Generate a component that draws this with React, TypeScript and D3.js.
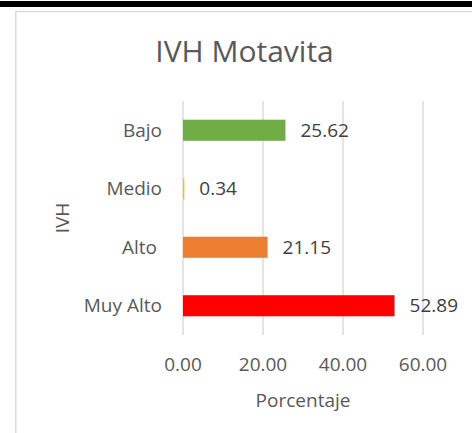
import React from "react";
import * as d3 from "d3";

const categories = ["Bajo", "Medio", "Alto", "Muy Alto"];
const values = [25.62, 0.34, 21.15, 52.89];
const colors = ["#70AD47", "#FFC000", "#ED7D31", "#FF0000"];
const ticks = [0, 20, 40, 60];
const title = "IVH Motavita";
const xTitle = "Porcentaje";
const yTitle = "IVH";

const W = 472;
const H = 433;
const FONT = "'Open Sans', sans-serif";

export default function App() {
  const x = d3.scaleLinear().domain([0, 60]).range([183, 423]);
  const y = d3.scaleBand<string>().domain(categories).range([101, 335]).paddingInner(0.64).paddingOuter(0.32);
  const bh = y.bandwidth();
  return (
    <svg width={W} height={H} style={{ position: "absolute", left: 0, top: 0, background: "#fff" }} fontFamily={FONT}>
      <rect x={0} y={0} width={W} height={H} fill="#fff" />
      <rect x={0} y={1} width={W} height={6} fill="#000" />
      <line x1={15.5} x2={W} y1={11.5} y2={11.5} stroke="#d9d9d9" strokeWidth={1.5} />
      <line x1={15.8} x2={15.8} y1={11} y2={H} stroke="#d9d9d9" strokeWidth={1.5} />
      <text x={244.5} y={62} textAnchor="middle" fontSize={30} fill="#595959">{title}</text>
      {ticks.map((t) => (
        <g key={t}>
          <line x1={x(t)} x2={x(t)} y1={101} y2={335} stroke="#d9d9d9" strokeWidth={1.4} />
          <text x={x(t)} y={371} textAnchor="middle" fontSize={19} fill="#595959">{t.toFixed(2)}</text>
        </g>
      ))}
      {categories.map((c, i) => {
        const cy = (y(c) as number) + bh / 2;
        return (
          <g key={c}>
            <rect x={x(0)} y={y(c)} width={x(values[i]) - x(0)} height={bh} fill={colors[i]} />
            <text x={c === "Alto" ? 157 : 162} y={cy} dy="0.35em" textAnchor="end" fontSize={19} fill="#595959">{c}</text>
            <text x={x(values[i]) + 15} y={cy} dy="0.35em" fontSize={19} fill="#404040">{values[i].toFixed(2)}</text>
          </g>
        );
      })}
      <text x={303} y={407} textAnchor="middle" fontSize={19} fill="#595959">{xTitle}</text>
      <text transform={`translate(69,218) rotate(-90)`} textAnchor="middle" fontSize={19} fill="#595959">{yTitle}</text>
    </svg>
  );
}
